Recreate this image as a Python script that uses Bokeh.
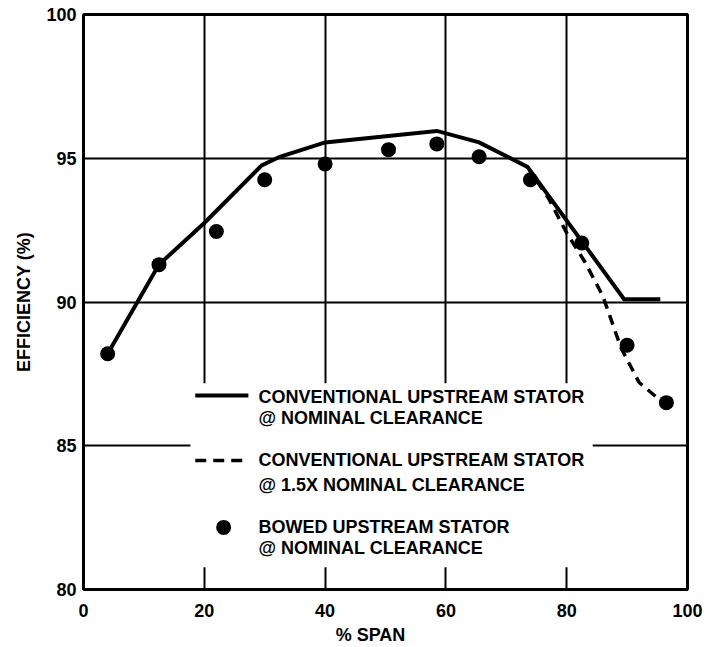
from bokeh.plotting import figure
from bokeh.models import Range1d, FixedTicker
from bokeh.core.properties import value
from bokeh.embed import file_html
from bokeh.resources import INLINE

# ---- data ----
span_dots = [4, 12.5, 22, 30, 40, 50.5, 58.5, 65.5, 74, 82.5, 90, 96.5]
eff_bowed = [88.2, 91.3, 92.45, 94.25, 94.8, 95.3, 95.5, 95.05, 94.25, 92.05, 88.5, 86.5]

span_conv = [4, 12.5, 20, 29.5, 32.5, 40, 58.5, 65.5, 73.5, 89.5, 95.5]
eff_conv = [88.2, 91.3, 92.75, 94.75, 95.05, 95.55, 95.95, 95.55, 94.7, 90.1, 90.1]

span_conv15 = [73.5, 77, 80, 83, 86, 89, 92, 96.5]
eff_conv15 = [94.7, 93.6, 92.4, 91.4, 90.2, 88.4, 87.2, 86.4]

x_ticks = [0, 20, 40, 60, 80, 100]
y_ticks = [80, 85, 90, 95, 100]

legend_lines = [
    "CONVENTIONAL UPSTREAM STATOR", "@ NOMINAL CLEARANCE",
    "CONVENTIONAL UPSTREAM STATOR", "@ 1.5X NOMINAL CLEARANCE",
    "BOWED UPSTREAM STATOR", "@ NOMINAL CLEARANCE",
]

FONT = value("Liberation Sans")

p = figure(width=714, height=647, output_backend="svg", toolbar_location=None,
           x_range=Range1d(0, 100), y_range=Range1d(80, 100),
           min_border_left=83, min_border_right=27, min_border_top=14,
           min_border_bottom=58, background_fill_color="white",
           border_fill_color="white")

p.outline_line_color = "black"
p.outline_line_width = 3

for ax in (p.xaxis, p.yaxis):
    ax.axis_line_color = None
    ax.major_tick_line_color = None
    ax.minor_tick_line_color = None
    ax.major_tick_out = 0
    ax.major_tick_in = 0
    ax.major_label_text_font = "Liberation Sans"
    ax.major_label_text_font_style = "bold"
    ax.major_label_text_font_size = "18px"
    ax.major_label_text_color = "black"
    ax.axis_label_text_font = "Liberation Sans"
    ax.axis_label_text_font_style = "bold"
    ax.axis_label_text_font_size = "18px"
    ax.axis_label_text_color = "black"

p.xaxis.ticker = FixedTicker(ticks=x_ticks)
p.yaxis.ticker = FixedTicker(ticks=y_ticks)
p.xaxis.axis_label = "% SPAN" + "\u00a0" * 6
p.yaxis.axis_label = "EFFICIENCY (%)"
p.xaxis.major_label_standoff = 14
p.xaxis.axis_label_standoff = 5
p.yaxis.major_label_standoff = 7
p.yaxis.axis_label_standoff = 9

p.xgrid.ticker = FixedTicker(ticks=x_ticks)
p.ygrid.ticker = FixedTicker(ticks=y_ticks)
for g in (p.xgrid, p.ygrid):
    g.grid_line_color = "black"
    g.grid_line_width = 2
    g.grid_line_alpha = 1.0

# legend backing box (hides the grid behind the legend)
p.quad(left=[17.7], right=[84.3], bottom=[80.77], top=[87.17],
       fill_color="white", line_color=None)

# data
p.line(span_conv, eff_conv, line_color="black", line_width=4, line_join="miter")
p.line(span_conv15, eff_conv15, line_color="black", line_width=3.5, line_dash="10 7")
p.scatter(span_dots, eff_bowed, size=15, fill_color="black", line_color=None)

# legend
p.line([18.5, 27.3], [86.75, 86.75], line_color="black", line_width=4)
p.line([18.5, 27.3], [84.49, 84.49], line_color="black", line_width=3.5, line_dash="11 7")
p.scatter([23.2], [82.16], size=15, fill_color="black", line_color=None)
p.text(x=[28.97] * 6, y=[86.71, 85.98, 84.49, 83.62, 82.16, 81.43], text=legend_lines,
       text_font=FONT, text_font_style="bold", text_font_size="18px",
       text_align="left", text_baseline="middle", text_color="black")

open("out.html", "w").write(file_html(p, INLINE))
